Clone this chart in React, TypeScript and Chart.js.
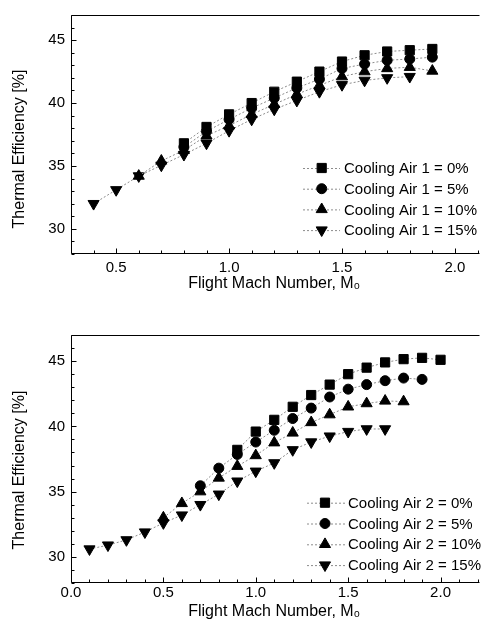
import React, { useEffect, useRef } from 'react';
import { Chart, registerables } from 'chart.js';
import { drawPoint } from 'chart.js/helpers';

Chart.register(...registerables);
Chart.defaults.font.family = '"Liberation Sans", Arial, sans-serif';
Chart.defaults.color = '#000';

// ---------- DATA ----------
const topMach = [0.4, 0.5, 0.6, 0.7, 0.8, 0.9, 1.0, 1.1, 1.2, 1.3, 1.4, 1.5, 1.6, 1.7, 1.8, 1.9];
const topCA0 = [null, null, null, null, 36.8, 38.1, 39.1, 40.0, 40.9, 41.7, 42.5, 43.3, 43.8, 44.1, 44.2, 44.3];
const topCA5 = [null, null, null, null, 36.5, 37.75, 38.7, 39.6, 40.4, 41.2, 41.9, 42.75, 43.1, 43.4, 43.5, 43.65];
const topCA10 = [null, null, 34.2, 35.4, 36.25, 37.4, 38.2, 39.1, 39.9, 40.7, 41.4, 42.1, 42.5, 42.75, 42.85, 42.55];
const topCA15 = [32.0, 33.1, 34.2, 35.05, 35.9, 36.8, 37.8, 38.7, 39.5, 40.2, 40.9, 41.45, 41.8, 42.0, 42.1, null];
const topLabels = ['Cooling Air 1 = 0%', 'Cooling Air 1 = 5%', 'Cooling Air 1 = 10%', 'Cooling Air 1 = 15%'];

const botMach = [0.1, 0.2, 0.3, 0.4, 0.5, 0.6, 0.7, 0.8, 0.9, 1.0, 1.1, 1.2, 1.3, 1.4, 1.5, 1.6, 1.7, 1.8, 1.9, 2.0];
const botCA0 = [null, null, null, null, null, null, null, null, 38.2, 39.6, 40.5, 41.5, 42.4, 43.2, 44.0, 44.5, 44.9, 45.15, 45.25, 45.1];
const botCA5 = [null, null, null, null, null, null, 35.45, 36.8, 37.85, 38.8, 39.7, 40.6, 41.4, 42.25, 42.85, 43.2, 43.5, 43.7, 43.6, null];
const botCA10 = [null, null, null, null, 33.0, 34.1, 35.0, 36.05, 36.95, 37.77, 38.75, 39.5, 40.3, 40.9, 41.5, 41.75, 41.95, 41.9, null, null];
const botCA15 = [30.6, 30.9, 31.3, 31.9, 32.6, 33.2, 34.0, 34.8, 35.8, 36.56, 37.2, 38.2, 38.8, 39.25, 39.6, 39.8, 39.8, null, null, null];
const botLabels = ['Cooling Air 2 = 0%', 'Cooling Air 2 = 5%', 'Cooling Air 2 = 10%', 'Cooling Air 2 = 15%'];

const topXTicks = [0.5, 1.0, 1.5, 2.0];
const botXTicks = [0.0, 0.5, 1.0, 1.5, 2.0];
const yTicks = [30, 35, 40, 45];

const xTitle = 'Flight Mach Number, M\u2080';
const yTitle = 'Thermal Efficiency [%]';

// ---------- STYLE ----------
const markerStyles = [
  { pointStyle: 'rect', radius: 6.5, rotation: 0 },
  { pointStyle: 'circle', radius: 5, rotation: 0 },
  { pointStyle: 'triangle', radius: 6.4, rotation: 0 },
  { pointStyle: 'triangle', radius: 6.4, rotation: 180 },
];

function toPoints(xs: number[], ys: (number | null)[]) {
  const out: { x: number; y: number }[] = [];
  xs.forEach((x, i) => {
    const y = ys[i];
    if (y !== null && y !== undefined) out.push({ x, y });
  });
  return out;
}

function makeDatasets(xs: number[], series: (number | null)[][], labels: string[]) {
  return series.map((s, i) => ({
    label: labels[i],
    data: toPoints(xs, s),
    borderColor: '#8c8c8c',
    borderWidth: 1,
    borderDash: [2, 2],
    backgroundColor: '#000',
    pointBackgroundColor: '#000',
    pointBorderColor: '#000',
    pointBorderWidth: 1,
    pointStyle: markerStyles[i].pointStyle,
    pointRadius: markerStyles[i].radius,
    pointRotation: markerStyles[i].rotation,
    fill: false,
    tension: 0,
  }));
}

const framePlugin = {
  id: 'frameTicks',
  afterDraw(chart: any, _args: any, opts: any) {
    const { ctx, chartArea: a, scales } = chart;
    const xs = scales.x;
    const ys = scales.y;
    ctx.save();
    ctx.strokeStyle = '#000';
    ctx.lineWidth = 1;
    const L = Math.round(a.left) + 0.5;
    const T = Math.round(a.top) + 0.5;
    const B = Math.round(a.bottom) - 0.5;
    const R = a.right + 2;
    ctx.beginPath();
    ctx.moveTo(R, T);
    ctx.lineTo(L, T);
    ctx.lineTo(L, B);
    ctx.lineTo(R, B);
    ctx.stroke();
    ctx.beginPath();
    for (let i = Math.ceil(xs.min * 10 - 1e-6); i <= Math.floor(xs.max * 10 + 1e-6); i++) {
      const v = i / 10;
      const px = Math.round(xs.getPixelForValue(v)) + 0.5;
      const major = i % 5 === 0;
      ctx.moveTo(px, B);
      ctx.lineTo(px, B - (major ? 5 : 3));
    }
    for (let v = Math.ceil(ys.min); v <= Math.floor(ys.max); v++) {
      const py = Math.round(ys.getPixelForValue(v)) + 0.5;
      const major = v % 5 === 0;
      ctx.moveTo(L, py);
      ctx.lineTo(L + (major ? 5 : 3), py);
    }
    ctx.stroke();
    ctx.fillStyle = '#000';
    ctx.font = opts.titleFont;
    ctx.textAlign = 'center';
    ctx.textBaseline = 'middle';
    ctx.translate(opts.titleX, (a.top + a.bottom) / 2 + opts.titleShift);
    ctx.rotate(-Math.PI / 2);
    ctx.fillText(opts.title, 0, 0);
    ctx.restore();
  },
};

const legendPlugin = {
  id: 'inLegend',
  afterDraw(chart: any, _args: any, opts: any) {
    const { ctx } = chart;
    ctx.save();
    chart.data.datasets.forEach((ds: any, i: number) => {
      const y = opts.y0 + i * opts.dy;
      ctx.strokeStyle = ds.borderColor;
      ctx.lineWidth = ds.borderWidth;
      ctx.setLineDash(ds.borderDash);
      ctx.beginPath();
      ctx.moveTo(opts.lineX1, y + 0.5);
      ctx.lineTo(opts.lineX2, y + 0.5);
      ctx.stroke();
      ctx.setLineDash([]);
      ctx.fillStyle = '#000';
      ctx.strokeStyle = '#000';
      ctx.lineWidth = 1;
      drawPoint(ctx, {
        pointStyle: ds.pointStyle,
        rotation: ds.pointRotation,
        radius: ds.pointRadius,
        borderWidth: 1,
      } as any, opts.markerX, y);
      ctx.font = opts.font;
      ctx.textAlign = 'left';
      ctx.textBaseline = 'middle';
      ctx.fillStyle = '#000';
      ctx.fillText(ds.label, opts.textX, y + 1);
    });
    ctx.restore();
  },
};

function buildConfig(p: {
  xs: number[];
  series: (number | null)[][];
  labels: string[];
  xMin: number;
  xMax: number;
  xTicks: number[];
  padTop: number;
  xHeight: number;
  xTickPad: number;
  xTitlePad: number;
  legend: any;
  titleShift: number;
}) {
  return {
    type: 'line' as const,
    data: { datasets: makeDatasets(p.xs, p.series, p.labels) },
    plugins: [framePlugin, legendPlugin],
    options: {
      responsive: false,
      animation: false,
      devicePixelRatio: 1,
      layout: { padding: { top: p.padTop, right: 1, left: 0, bottom: 0 } },
      scales: {
        x: {
          type: 'linear',
          min: p.xMin,
          max: p.xMax,
          afterBuildTicks: (s: any) => {
            s.ticks = p.xTicks.map((v) => ({ value: v }));
          },
          afterFit: (s: any) => {
            s.height = p.xHeight;
          },
          grid: { display: false, drawTicks: false },
          border: { display: false },
          ticks: {
            autoSkip: false,
            maxRotation: 0,
            padding: p.xTickPad,
            font: { size: 15 },
            color: '#000',
            callback: (v: any) => Number(v).toFixed(1),
          },
          title: {
            display: true,
            text: xTitle,
            font: { size: 16 },
            color: '#000',
            padding: { top: 0, bottom: p.xTitlePad },
          },
        },
        y: {
          type: 'linear',
          min: 28,
          max: 47,
          afterBuildTicks: (s: any) => {
            s.ticks = yTicks.map((v) => ({ value: v }));
          },
          afterFit: (s: any) => {
            s.width = 71;
          },
          grid: { display: false, drawTicks: false },
          border: { display: false },
          ticks: {
            padding: 6,
            font: { size: 15 },
            color: '#000',
            callback: (v: any) => String(v),
          },
        },
      },
      plugins: {
        legend: { display: false },
        tooltip: { enabled: false },
        frameTicks: {
          title: yTitle,
          titleFont: '16px "Liberation Sans", Arial, sans-serif',
          titleX: 20,
          titleShift: p.titleShift,
        },
        inLegend: p.legend,
      },
    },
  };
}

function ChartCanvas({ config, width, height, top }: { config: any; width: number; height: number; top: number }) {
  const ref = useRef<HTMLCanvasElement | null>(null);
  useEffect(() => {
    if (!ref.current) return;
    const chart = new Chart(ref.current, config);
    return () => chart.destroy();
  }, [config]);
  return (
    <canvas
      ref={ref}
      width={width}
      height={height}
      style={{ position: 'absolute', left: 0, top, width, height, display: 'block' }}
    />
  );
}

const topConfig = buildConfig({
  xs: topMach,
  series: [topCA0, topCA5, topCA10, topCA15],
  labels: topLabels,
  xMin: 0.3,
  xMax: 2.1,
  xTicks: topXTicks,
  padTop: 7,
  xHeight: 46,
  xTickPad: 5,
  xTitlePad: 6.5,
  titleShift: 14.5,
  legend: {
    y0: 168,
    dy: 20.7,
    lineX1: 303,
    lineX2: 340,
    markerX: 321.7,
    textX: 344,
    font: '15px "Liberation Sans", Arial, sans-serif',
  },
});

const botConfig = buildConfig({
  xs: botMach,
  series: [botCA0, botCA5, botCA10, botCA15],
  labels: botLabels,
  xMin: 0.0,
  xMax: 2.2,
  xTicks: botXTicks,
  padTop: 35,
  xHeight: 47,
  xTickPad: 1,
  xTitlePad: 8.8,
  titleShift: 11,
  legend: {
    y0: 202.7,
    dy: 20.8,
    lineX1: 307,
    lineX2: 345,
    markerX: 325,
    textX: 348,
    font: '15px "Liberation Sans", Arial, sans-serif',
  },
});

export default function App() {
  return (
    <div style={{ position: 'absolute', left: 0, top: 0, width: 485, height: 630, background: '#fff' }}>
      <ChartCanvas config={topConfig} width={485} height={300} top={0} />
      <ChartCanvas config={botConfig} width={485} height={330} top={300} />
    </div>
  );
}
